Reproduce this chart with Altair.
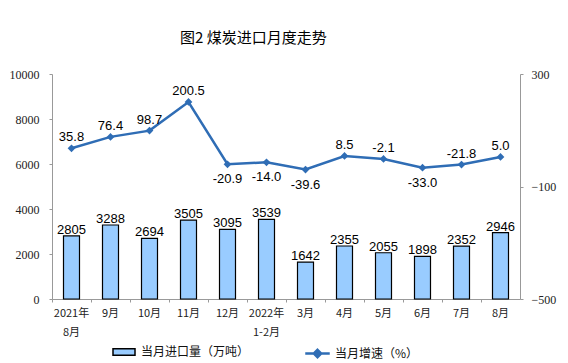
import altair as alt
import pandas as pd

months = ["2021年\n8月", "9月", "10月", "11月", "12月", "2022年\n1-2月",
          "3月", "4月", "5月", "6月", "7月", "8月"]
volume = [2805, 3288, 2694, 3505, 3095, 3539, 1642, 2355, 2055, 1898, 2352, 2946]
growth = [35.8, 76.4, 98.7, 200.5, -20.9, -14.0, -39.6, 8.5, -2.1, -33.0, -21.8, 5.0]
label_below = [False, False, False, False, True, True, True, False, False, True, False, False]

df = pd.DataFrame({
    "month": months,
    "volume": volume,
    "growth": growth,
    "below": label_below,
    "vlabel": [str(v) for v in volume],
    "glabel": [f"{g:.1f}" for g in growth],
    "s1": "当月进口量（万吨）",
    "s2": "当月增速（%）",
})

BAR = "#99CCFF"
LINE = "#2F6DB5"
NUMFONT = "Liberation Serif"
CJK = "Noto Sans CJK SC"

base = alt.Chart(df)

x = alt.X("month:N", sort=months, title=None,
          scale=alt.Scale(paddingInner=0, paddingOuter=0),
          axis=alt.Axis(labelAngle=0, bandPosition=0, tickSize=3, domainColor="#999",
                        tickColor="#999", labelFont=CJK, labelFontSize=11,
                        labelColor="#222", labelPadding=5, labelLineHeight=19,
                        labelExpr="split(datum.label, '\\n')"))

yL = alt.Y("volume:Q", title=None,
           scale=alt.Scale(domain=[0, 10000]),
           axis=alt.Axis(orient="left", values=[0, 2000, 4000, 6000, 8000, 10000],
                         format="d", grid=False, tickSize=3, domainColor="#999",
                         tickColor="#999", labelFont=NUMFONT, labelFontSize=12,
                         labelColor="#222", labelPadding=10))
yR = alt.Y("growth:Q", title=None,
           scale=alt.Scale(domain=[-500, 300]),
           axis=alt.Axis(orient="right", values=[-500, -100, 300], format="d",
                         grid=False, tickSize=3, domainColor="#999", tickColor="#999",
                         labelFont=NUMFONT, labelFontSize=12, labelColor="#222",
                         labelPadding=8))

bars = base.mark_bar(size=16, stroke="black", strokeWidth=1.2).encode(
    x=x, y=yL,
    color=alt.Color("s1:N", scale=alt.Scale(range=[BAR]),
                    legend=alt.Legend(title=None, orient="none", legendX=60, legendY=266,
                                      symbolType="M-1,-0.3H1V0.3H-1Z", symbolSize=484,
                                      symbolStrokeColor="black", symbolStrokeWidth=1.5,
                                      labelFont=CJK, labelFontSize=12, labelColor="#111",
                                      labelOffset=5)),
)
bar_text = base.mark_text(baseline="alphabetic", dy=-2, font="Liberation Sans",
                          fontSize=13, color="black").encode(x=x, y=yL, text="vlabel:N")

line = base.mark_line(strokeWidth=2.5).encode(
    x=x, y=yR,
    color=alt.Color("s2:N", scale=alt.Scale(range=[LINE]),
                    legend=alt.Legend(title=None, orient="none", legendX=252, legendY=266,
                                      symbolType="M-1,0H1M0,-0.3L0.3,0L0,0.3L-0.3,0Z",
                                      symbolSize=600, symbolStrokeWidth=2.5,
                                      symbolFillColor=LINE,
                                      labelFont=CJK, labelFontSize=12, labelColor="#111",
                                      labelOffset=4)),
)
pts = base.mark_point(shape="diamond", filled=True, size=60, color=LINE, opacity=1).encode(
    x=x, y=yR)
gt_above = base.transform_filter("!datum.below").mark_text(
    baseline="middle", dy=-11, font="Liberation Sans", fontSize=13, color="black"
).encode(x=x, y=yR, text="glabel:N")
gt_below = base.transform_filter("datum.below").mark_text(
    baseline="middle", dy=15, font="Liberation Sans", fontSize=13, color="black"
).encode(x=x, y=yR, text="glabel:N")

left = alt.layer(bars, bar_text)
right = alt.layer(line, pts, gt_above, gt_below)

chart = alt.layer(left, right).resolve_scale(y="independent", color="independent").properties(
    width=468, height=225,
    padding={"left": 44, "top": 66, "right": 40, "bottom": 62},
    autosize=alt.AutoSizeParams(type="none"),
    title=alt.TitleParams("图2 煤炭进口月度走势", font=CJK, fontSize=15, fontWeight="normal",
                          color="black", anchor="start", dx=171, offset=22),
).configure_view(stroke=None)

chart.save("out.html", embed_options={"renderer": "svg", "actions": False})
